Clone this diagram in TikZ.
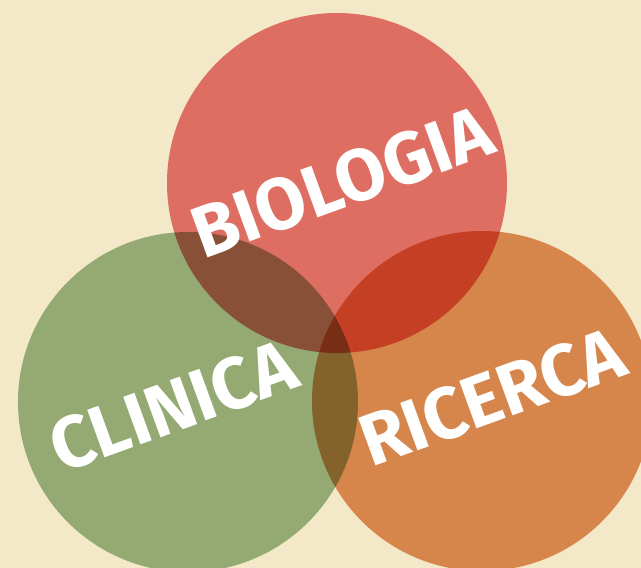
\documentclass[tikz,border=0pt]{standalone}
\usepackage{fontspec}
\setmainfont{Fira Sans}
\usepackage{xcolor}
\usepackage{tikz}
\usetikzlibrary{positioning}
\definecolor{paper}{RGB}{243,232,200}
\definecolor{bioRed}{RGB}{235,121,125}
\definecolor{cliGreen}{RGB}{157,187,147}
\definecolor{ricOrange}{RGB}{225,148,96}
\tikzset{
  disc/.style={circle, minimum size=340pt, inner sep=0pt, outer sep=0pt, blend mode=multiply},
  word/.style={text=white, font=\fontsize{73}{73}\selectfont\bfseries, rotate=20, inner sep=0pt},
  every node/.style={font=\small}
}

\begin{document}
\begin{tikzpicture}[x=1pt, y=-1pt]
    \fill[paper] (0,0) rectangle (641,568);
    \useasboundingbox (0,0) rectangle (641,568);
    \node[disc, fill=bioRed] (bio) at (337,183) {};
    \node[disc, fill=cliGreen] (cli) at (188,402) {};
    \node[disc, fill=ricOrange] (ric) at (482,401) {};
    \node[word] (biotxt) at ([xshift=5pt, yshift=1pt]bio.center) {BIOLOGIA};
    \node[word] (clitxt) at ([xshift=-15pt, yshift=-4pt]cli.center) {CLINICA};
    \node[word] (rictxt) at ([xshift=10pt, yshift=4pt]ric.center) {RICERCA};
\end{tikzpicture}
\end{document}
